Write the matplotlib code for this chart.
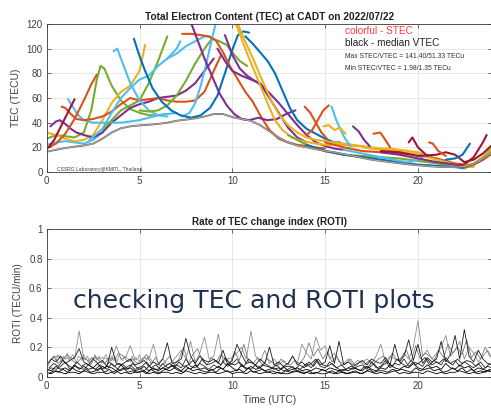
import matplotlib
matplotlib.use("Agg")
import matplotlib.pyplot as plt
import numpy as np

plt.rcParams['font.family'] = ['Liberation Sans', 'DejaVu Sans']

W, H = 491, 411

# MATLAB default colour order
C = {'b': '#0072BD', 'o': '#D95319', 'y': '#EDB120', 'p': '#7E2F8E',
     'g': '#77AC30', 'c': '#4DBEEE', 'r': '#A2142F'}

# ---------------- median VTEC ----------------
vtec_t = [0, 0.5, 1, 1.5, 2, 2.5, 3, 3.5, 4, 4.5, 5, 5.5, 6, 6.5, 7, 7.5, 8, 8.5, 9, 9.5,
          10, 10.5, 11, 11.5, 12, 12.5, 13, 13.5, 14, 14.5, 15, 15.5, 16, 16.5, 17, 17.5,
          18, 18.5, 19, 19.5, 20, 20.5, 21, 21.5, 22, 22.5, 23, 23.5, 24]
vtec_v = [16.5, 18, 19.5, 20.5, 21.5, 23, 27, 32, 35.5, 37, 37.8, 38.3, 39, 40, 41.5, 42.5,
          43.5, 45, 47, 47, 44.5, 43, 41.5, 38, 33, 28, 24, 21.5, 20, 18.5, 17, 16, 14.5,
          13, 11.5, 10, 9, 8, 7, 6.2, 5.5, 4.8, 4.3, 4, 4, 4.5, 6.5, 11, 16]

# ---------------- STEC arcs (time UTC, TECU) ----------------
arc01_t = [0.1, 0.4, 0.7, 1.0, 1.3, 1.5]
arc01_v = [20, 26, 35, 44, 53, 59]
arc02_t = [0, 0.5, 1, 1.5, 2, 2.4, 2.7]
arc02_v = [19, 23, 31, 43, 58, 71, 79]
arc03_t = [0, 0.5, 1, 1.5, 2, 2.4, 2.7, 2.9, 3.1, 3.5, 4, 4.5, 5, 5.5, 6, 6.4]
arc03_v = [27, 30, 29, 28, 32, 50, 75, 86, 84, 70, 58, 51, 48, 46, 46, 47]
arc04_t = [0.8, 1.0, 1.3, 1.6, 2.0, 2.5, 3.0, 3.5, 4.0, 4.5, 5.0, 5.5, 6.0, 6.5, 7.0, 7.5, 8.0, 8.5, 9.0, 9.4]
arc04_v = [53, 52, 47, 43, 42, 43, 45, 49, 55, 60, 58, 59, 60, 58, 57, 57, 58, 65, 82, 95]
arc05_t = [0.2, 0.5, 0.7, 1.0, 1.3, 1.6, 2.0, 2.5, 3, 3.5, 4, 4.5, 5, 5.5, 6, 6.5, 7, 7.5, 8, 8.5, 9.0]
arc05_v = [37, 41, 42, 39, 35, 32, 30, 28, 32, 40, 46, 52, 55, 57, 60, 61, 62, 66, 72, 82, 92]
arc06_t = [1.15, 1.4, 1.7, 2.0, 2.5, 3.0, 3.5, 4.0, 4.5, 5.0, 5.5, 6.0, 6.5, 7.0]
arc06_v = [59, 53, 46, 42, 40, 40, 40, 40, 41, 42, 44, 46, 47, 48]
arc07_t = [0, 0.5, 1, 1.5, 2, 2.5, 3]
arc07_v = [22, 24, 25, 24, 23, 26, 32]
arc08_t = [0, 0.5, 1, 1.5, 2, 2.5, 3, 3.5, 4, 4.5, 5, 5.3]
arc08_v = [32, 30, 27, 25, 26, 30, 42, 56, 65, 70, 82, 103]
arc09_t = [3, 3.5, 4, 4.5, 5, 5.5, 6, 6.5]
arc09_v = [34, 42, 50, 54, 58, 72, 90, 110]
arc10_t = [3.6, 3.8, 4.1, 4.5, 5.0, 5.5, 6.0, 6.5]
arc10_v = [98, 100, 88, 72, 58, 50, 46, 45]
arc11_t = [4.7, 5.0, 5.3, 5.7, 6.2, 6.7, 7.2, 7.8, 8.3, 8.8, 9.2, 9.6, 10.0, 10.3, 10.6, 10.9]
arc11_v = [108, 94, 82, 68, 57, 50, 46, 44, 46, 52, 62, 80, 99, 111, 114, 113]
arc12_t = [2.3, 3, 3.5, 4, 4.5, 5, 5.5, 6, 6.5, 7, 7.2]
arc12_v = [26, 35, 48, 60, 68, 75, 78, 86, 92, 100, 106]
arc13_t = [7.3, 7.7, 8.0, 8.3, 8.6, 8.9, 9.1]
arc13_v = [45, 48, 56, 70, 88, 108, 120]
arc14_t = [6.5, 7, 7.5, 8, 8.5, 8.8]
arc14_v = [92, 96, 102, 106, 110, 110]
arc15_t = [5.0, 5.5, 6.0, 6.5, 7.0, 7.5, 8.0, 8.5, 8.9, 9.3, 9.7, 10.0, 10.4, 10.8]
arc15_v = [50, 49, 50, 54, 62, 74, 88, 100, 108, 106, 103, 97, 90, 86]
arc16_t = [7.3, 7.8, 8.3, 8.7, 9.1, 9.5, 9.9, 10.3, 10.7, 11.1, 11.5, 12.0, 12.5, 13, 13.5, 14, 14.5, 15]
arc16_v = [112, 112, 111, 110, 107, 97, 85, 75, 65, 57, 46, 34, 27, 24, 22, 21, 20, 19]
arc17_t = [7.8, 8.1, 8.5, 8.9, 9.3, 9.7, 10.1, 10.5, 10.9, 11.4, 11.9, 12.4, 12.9, 13.4]
arc17_v = [120, 108, 92, 78, 64, 54, 47, 43, 42, 44, 42, 43, 47, 50]
arc18_t = [9.6, 10.0, 10.4, 10.8, 11.2, 11.6, 12.0, 12.5, 13.0, 13.5, 14.0, 14.5, 15, 15.5, 16]
arc18_v = [111, 95, 84, 78, 74, 70, 64, 56, 47, 38, 30, 24, 21, 19, 18]
arc19_t = [9.2, 9.6, 10, 10.5, 11, 11.5, 12, 12.5, 13, 13.5, 14]
arc19_v = [100, 90, 82, 78, 75, 72, 60, 48, 36, 28, 24]
arc20_t = [10.7, 11.1, 11.5, 11.9, 12.3, 12.7, 13.1, 13.5, 14, 14.5, 15, 15.5, 15.8]
arc20_v = [110, 104, 97, 90, 80, 66, 52, 42, 35, 31, 27, 24, 24]
arc21_t = [10.3, 10.6, 10.9, 11.2, 11.5, 11.8, 12.1, 12.5, 13, 13.5, 14, 14.5, 15, 15.5, 16,
           16.5, 17, 17.5, 18, 18.5, 19, 19.5, 20, 20.2]
arc21_v = [120, 109, 99, 89, 78, 68, 58, 47, 38, 32, 28, 26, 25, 24, 23, 22, 21, 20, 19, 19,
           18, 17, 16, 15]
arc22_t = [10.2, 10.5, 10.8, 11.1, 11.4, 11.7, 12.0, 12.3, 12.7, 13.2, 13.8, 14.5, 15, 15.5, 16, 16.5, 17.1]
arc22_v = [120, 108, 96, 85, 74, 63, 52, 42, 34, 28, 25, 23, 22, 22, 22, 21, 21]
arc23_t = [13.9, 14.2, 14.5, 14.8, 15.1]
arc23_v = [53, 48, 40, 32, 27]
arc24_t = [14.0, 14.3, 14.6, 14.9, 15.2]
arc24_v = [30, 34, 42, 50, 54]
arc25_t = [15.35, 15.6, 16.0, 16.35]
arc25_v = [53, 42, 29, 21]
arc26_t = [14.9, 15.2, 15.5, 15.8, 16.1]
arc26_v = [37, 38, 34, 36, 31]
arc27_t = [16.5, 16.8, 17.1, 17.4]
arc27_v = [37, 33, 26, 21]
arc28_t = [17.6, 17.97, 18.2, 18.5]
arc28_v = [31, 32, 27, 20]
arc29_t = [19.5, 19.7, 20.0, 20.5]
arc29_v = [24, 28, 20, 13]
arc30_t = [20.6, 20.8, 21.1, 21.5]
arc30_v = [24, 23, 17, 13]
# night arcs
arc31_t = [13, 14, 15, 16, 17, 18, 19, 20, 21, 22, 22.5, 23]
arc31_v = [30, 22, 17, 14, 13, 12, 11, 9, 7, 5, 4, 5]
arc32_t = [14, 15, 16, 17, 18, 19, 20, 21, 22, 22.5]
arc32_v = [22, 17, 14, 12, 10, 8, 6, 5, 4, 3]
arc33_t = [16, 17, 18, 19, 19.5, 20, 20.5, 21, 21.5, 22]
arc33_v = [18, 15, 12, 9, 8, 10, 14, 10, 7, 5]
arc34_t = [15, 16, 17, 18, 19, 20, 21, 22, 22.5]
arc34_v = [24, 20, 17, 16, 15, 14, 11, 7, 6]
arc35_t = [17, 18, 19, 20, 21, 22, 22.5, 23]
arc35_v = [20, 18, 17, 14, 10, 6, 5, 4]
arc36_t = [18, 19, 20, 21, 22, 22.5, 23, 23.5, 24]
arc36_v = [16, 14, 11, 8, 6, 5, 6, 10, 16]
arc37_t = [18, 19, 20, 21, 21.5, 22, 22.5, 23, 23.5, 24]
arc37_v = [17, 16, 13, 14, 16, 14, 8, 10, 15, 22]
arc38_t = [22.5, 23, 23.5, 24]
arc38_v = [3, 6, 12, 20]
arc39_t = [22, 22.5, 23, 23.5, 24]
arc39_v = [5, 4, 6, 10, 15]
arc40_t = [21.5, 22, 22.4, 22.8]
arc40_v = [10, 11, 14, 23]
arc41_t = [22.0, 22.5, 23, 23.5, 23.7]
arc41_v = [4, 6, 12, 24, 30]
arc42_t = [22.5, 23, 23.5, 24]
arc42_v = [5, 7, 12, 18]

arcs = [
    (arc03_t, arc03_v, 'g'), (arc07_t, arc07_v, 'c'), (arc08_t, arc08_v, 'y'),
    (arc05_t, arc05_v, 'p'), (arc06_t, arc06_v, 'c'), (arc04_t, arc04_v, 'o'),
    (arc02_t, arc02_v, 'o'), (arc01_t, arc01_v, 'r'), (arc09_t, arc09_v, 'g'),
    (arc10_t, arc10_v, 'c'), (arc12_t, arc12_v, 'c'), (arc15_t, arc15_v, 'g'),
    (arc14_t, arc14_v, 'c'), (arc13_t, arc13_v, 'c'), (arc11_t, arc11_v, 'b'),
    (arc16_t, arc16_v, 'o'), (arc17_t, arc17_v, 'p'), (arc18_t, arc18_v, 'p'),
    (arc19_t, arc19_v, 'p'), (arc20_t, arc20_v, 'b'), (arc21_t, arc21_v, 'y'),
    (arc22_t, arc22_v, 'y'), (arc31_t, arc31_v, 'g'), (arc32_t, arc32_v, 'b'),
    (arc33_t, arc33_v, 'c'), (arc34_t, arc34_v, 'o'), (arc35_t, arc35_v, 'y'),
    (arc36_t, arc36_v, 'p'), (arc37_t, arc37_v, 'r'), (arc23_t, arc23_v, 'o'),
    (arc24_t, arc24_v, 'o'), (arc25_t, arc25_v, 'c'), (arc26_t, arc26_v, 'y'),
    (arc27_t, arc27_v, 'p'), (arc28_t, arc28_v, 'o'), (arc29_t, arc29_v, 'r'),
    (arc30_t, arc30_v, 'o'), (arc38_t, arc38_v, 'g'), (arc39_t, arc39_v, 'o'),
    (arc40_t, arc40_v, 'b'), (arc41_t, arc41_v, 'r'), (arc42_t, arc42_v, 'y'),
]

# ---------------- ROTI traces (hundredths of TECU/min) ----------------
roti_k1 = [3, 2, 4, 3, 2, 3, 3, 2, 4, 3, 2, 3, 3, 2, 3, 4, 2, 3, 2, 3, 3, 4, 2, 3, 2, 3, 3, 2,
           3, 2, 4, 3, 2, 3, 2, 3, 3, 2, 3, 4, 2, 3, 3, 2, 4, 3, 2, 3, 3, 2, 3, 2, 2, 3, 4, 3,
           3, 2, 3, 2, 2, 3, 2, 4, 3, 2, 3, 3, 2, 4, 3, 2, 3, 2, 3, 4, 2, 3, 2, 3, 3, 2, 4, 3,
           2, 3, 2, 3, 3, 4, 3, 2, 3, 2, 3, 4, 3]
roti_k2 = [5, 4, 7, 5, 6, 4, 8, 5, 7, 5, 6, 9, 5, 7, 6, 4, 8, 5, 6, 4, 5, 7, 4, 6, 4, 6, 5, 8,
           6, 4, 7, 5, 8, 5, 6, 4, 5, 7, 5, 9, 6, 4, 8, 5, 7, 5, 6, 4, 5, 6, 4, 7, 4, 5, 6, 4,
           5, 4, 6, 5, 4, 6, 5, 4, 5, 4, 6, 5, 4, 7, 5, 4, 6, 5, 8, 6, 5, 7, 6, 9, 6, 5, 8, 6,
           7, 5, 9, 6, 5, 8, 6, 7, 4, 6, 5, 4, 5]
roti_k3 = [8, 12, 10, 14, 9, 11, 13, 19, 10, 8, 12, 9, 11, 7, 20, 9, 8, 10, 12, 8, 9, 11, 7, 10,
           8, 12, 23, 9, 10, 12, 26, 14, 9, 14, 11, 10, 12, 9, 18, 8, 11, 22, 15, 9, 10, 8, 12, 9,
           20, 8, 10, 7, 9, 14, 8, 10, 7, 9, 12, 8, 10, 21, 9, 24, 8, 10, 7, 9, 11, 8, 12, 10,
           9, 13, 8, 22, 10, 14, 25, 11, 22, 9, 13, 10, 12, 24, 10, 15, 28, 12, 32, 14, 10, 18,
           12, 9, 8]
roti_g1 = [6, 12, 14, 13, 12, 13, 12, 31, 12, 11, 13, 12, 13, 12, 11, 21, 12, 13, 21, 12, 11,
           13, 12, 22, 9, 12, 8, 10, 14, 18, 12, 24, 10, 16, 27, 12, 14, 29, 10, 12, 13, 16, 20,
           12, 31, 14, 10, 18, 9, 12, 8, 11, 8, 14, 9, 22, 16, 12, 27, 18, 21, 12, 16, 10, 9,
           12, 8, 11, 10, 12, 9, 14, 22, 10, 14, 12, 11, 16, 12, 20, 38, 14, 18, 12, 16, 20, 28,
           14, 18, 24, 12, 20, 16, 10, 14, 18, 12]
roti_k4 = [4, 6, 5, 7, 10, 5, 7, 6, 5, 8, 6, 4, 7, 5, 9, 6, 4, 6, 8, 5, 6, 4, 7, 5, 5, 9, 6, 7,
           8, 6, 12, 7, 6, 9, 7, 5, 8, 6, 10, 7, 9, 12, 7, 6, 5, 8, 6, 9, 7, 5, 6, 4, 5, 7, 4, 6,
           9, 6, 11, 7, 6, 10, 7, 5, 4, 6, 5, 7, 8, 5, 10, 6, 7, 11, 6, 9, 8, 12, 7, 10, 9, 7,
           12, 8, 10, 8, 13, 9, 11, 7, 10, 8, 6, 9, 5, 7, 6]
roti_k5 = [2, 4, 3, 5, 3, 6, 4, 3, 5, 3, 4, 6, 3, 5, 2, 4, 6, 3, 4, 3, 4, 2, 5, 3, 3, 5, 4, 6,
           4, 3, 6, 4, 5, 4, 3, 5, 3, 6, 4, 3, 4, 5, 3, 6, 3, 4, 5, 3, 4, 3, 2, 4, 3, 4, 3, 2,
           4, 2, 3, 5, 3, 4, 2, 3, 2, 3, 4, 2, 3, 5, 3, 4, 4, 3, 5, 4, 5, 4, 3, 6, 4, 5, 6, 4,
           5, 3, 4, 6, 4, 6, 3, 5, 3, 4, 3, 5]
roti_g2 = [10, 14, 9, 12, 15, 11, 9, 13, 12, 8, 14, 10, 9, 13, 11, 16, 14, 10, 12, 9, 11, 15,
           9, 13, 7, 10, 14, 8, 12, 20, 9, 15, 19, 11, 8, 13, 10, 15, 12, 9, 17, 11, 22, 10, 9,
           13, 8, 12, 10, 7, 12, 9, 8, 11, 9, 13, 23, 14, 19, 12, 17, 10, 14, 8, 9, 12, 7, 10,
           8, 11, 9, 12, 14, 10, 16, 11, 13, 18, 10, 21, 12, 16, 14, 11, 18, 13, 22, 16, 20, 15,
           25, 13, 17, 12, 20, 14]
roti_k6 = [6, 9, 7, 11, 8, 6, 10, 7, 9, 7, 5, 8, 6, 10, 7, 9, 8, 5, 9, 6, 7, 10, 6, 8, 5, 7,
           9, 6, 10, 7, 8, 11, 7, 12, 8, 9, 11, 8, 13, 9, 8, 10, 7, 12, 9, 6, 8, 7, 6, 8, 5, 7,
           7, 5, 8, 6, 10, 7, 12, 8, 7, 9, 6, 8, 5, 7, 6, 4, 7, 6, 9, 5, 8, 10, 7, 12, 9, 7,
           11, 8, 10, 13, 8, 11, 9, 12, 10, 8, 12, 9, 11, 10, 7, 10, 6, 9]
roti_band = [12, 14, 11, 15, 13, 10, 14, 12, 16, 11, 13, 15, 12, 10, 14, 13, 11, 15, 12, 14,
             10, 13, 12, 15, 11, 14, 12, 10, 13, 15, 12, 11, 14, 12, 13, 10, 15, 12, 11, 14,
             13, 12, 10, 14, 11, 13, 12, 15, 10, 12, 13, 11, 14, 12, 10]

# (values, start hour, step hours, colour)
roti_traces = [(roti_band, 0.3, 0.1, '#9a9a9a'), (roti_g1, 0.0, 0.25, '#8c8c8c'),
               (roti_g2, 0.125, 0.25, '#7a7a7a'), (roti_k4, 0.0, 0.25, '#2a2a2a'),
               (roti_k6, 0.125, 0.25, '#202020'), (roti_k3, 0.0, 0.25, '#1a1a1a'),
               (roti_k2, 0.0, 0.25, '#000000'), (roti_k5, 0.125, 0.25, '#000000'),
               (roti_k1, 0.0, 0.25, '#000000')]

# ---------------- figure ----------------
fig = plt.figure(figsize=(W / 100, H / 100), dpi=100)
left = 46.7 / W
width = 445.5 / W
ax1 = fig.add_axes([left, 1 - 172 / H, width, 148 / H])
ax2 = fig.add_axes([left, 1 - 376.7 / H, width, 147.4 / H])

for ax in (ax1, ax2):
    ax.set_xlim(0, 24)
    ax.set_xticks([0, 5, 10, 15, 20])
    ax.grid(True, color='#e3e3e3', lw=0.6)
    ax.set_axisbelow(True)
    ax.tick_params(direction='in', length=3, width=0.5, labelsize=7,
                   colors='#3a3a3a', labelcolor='#404040', top=True, right=True, pad=3)
    for s in ax.spines.values():
        s.set_color('#3a3a3a')
        s.set_linewidth(0.6)

# top panel
for t, v, c in arcs:
    ax1.plot(t, v, color=C[c], lw=1.5, solid_capstyle='round', solid_joinstyle='round')
ax1.plot(vtec_t, vtec_v, color='#6a6a6a', lw=1.4)
ax1.plot(vtec_t, vtec_v, color='#bdbdbd', lw=0.5)
ax1.set_ylim(0, 120)
ax1.set_yticks(range(0, 121, 20))
ax1.set_ylabel('TEC (TECU)', fontsize=7.5, color='#404040', labelpad=4)
ax1.set_title('Total Electron Content (TEC) at CADT on 2022/07/22', fontsize=7.3,
              fontweight='bold', color='#202020', pad=3)

fig.text(345 / W, 1 - 31.5 / H, 'colorful - STEC', color='#ff3b3b', fontsize=7.2, va='center')
fig.text(345 / W, 1 - 43.5 / H, 'black - median VTEC', color='#202020', fontsize=7.2, va='center')
fig.text(345 / W, 1 - 57 / H, 'Max STEC/VTEC = 141.40/51.33 TECu', color='#303030',
         fontsize=4.9, va='center')
fig.text(345 / W, 1 - 69 / H, 'Min STEC/VTEC = 1.98/1.35 TECu', color='#303030',
         fontsize=4.9, va='center')
fig.text(57 / W, 1 - 169.5 / H, 'CSSRG Laboratory@KMITL, Thailand.', color='#404040',
         fontsize=3.6, va='center')

# bottom panel
for vals, t0, step, col in roti_traces:
    tt = t0 + np.arange(len(vals)) * step
    ax2.plot(tt, np.array(vals) / 100.0, color=col, lw=0.6)
ax2.set_ylim(0, 1)
ax2.set_yticks([0, 0.2, 0.4, 0.6, 0.8, 1])
ax2.set_yticklabels(['0', '0.2', '0.4', '0.6', '0.8', '1'])
ax2.set_ylabel('ROTI (TECU/min)', fontsize=7.2, color='#404040', labelpad=4)
ax2.set_xlabel('Time (UTC)', fontsize=7.4, color='#404040', labelpad=3)
ax2.set_title('Rate of TEC change index (ROTI)', fontsize=7.1, fontweight='bold',
              color='#202020', pad=3)

fig.text(73 / W, 1 - 301 / H, 'checking TEC and ROTI plots', color='#1f3050',
         fontsize=18.1, va='center', family=['DejaVu Sans'])

fig.savefig('out.png', dpi=100)
